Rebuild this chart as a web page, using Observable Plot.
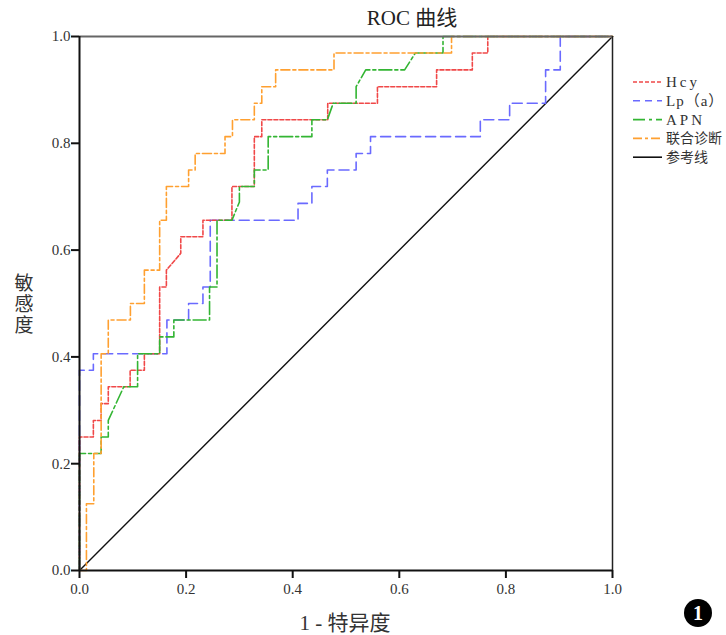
<!DOCTYPE html>
<html>
<head>
<meta charset="utf-8">
<script src="https://cdn.jsdelivr.net/npm/d3@7"></script>
<script src="https://cdn.jsdelivr.net/npm/@observablehq/plot@0.6"></script>
<style>
  html, body { margin: 0; padding: 0; background: #fff; }
  #chart svg { display: block; }
</style>
</head>
<body>
<div id="chart"></div>
<script>
// ---- Data ----
const title = "ROC 曲线";
const xTitle = "1 - 特异度";
const yTitle = ["敏", "感", "度"];
const tickValues = [0, 0.2, 0.4, 0.6, 0.8, 1.0];
const seriesNames = ["Hcy", "Lp（a）", "APN", "联合诊断", "参考线"];

const hcyX = [0, 0, 0.026, 0.026, 0.0406, 0.0406, 0.054, 0.054, 0.095, 0.095, 0.1217, 0.1217, 0.1504, 0.1504, 0.163, 0.163, 0.19, 0.19, 0.2316, 0.2316, 0.286, 0.286, 0.328, 0.328, 0.342, 0.342, 0.4657, 0.4657, 0.559, 0.559, 0.67, 0.67, 0.737, 0.737, 0.766, 0.766, 1];
const hcyY = [0, 0.25, 0.25, 0.281, 0.281, 0.3125, 0.3125, 0.344, 0.344, 0.375, 0.375, 0.406, 0.406, 0.531, 0.531, 0.5625, 0.594, 0.625, 0.625, 0.656, 0.656, 0.719, 0.719, 0.8125, 0.8125, 0.844, 0.844, 0.875, 0.875, 0.906, 0.906, 0.9375, 0.9375, 0.969, 0.969, 1, 1];

const lpaX = [0, 0, 0.026, 0.026, 0.164, 0.164, 0.2047, 0.2047, 0.2316, 0.2316, 0.2453, 0.2453, 0.41, 0.41, 0.436, 0.436, 0.465, 0.465, 0.519, 0.519, 0.546, 0.546, 0.752, 0.752, 0.807, 0.807, 0.8745, 0.8745, 0.902, 0.902, 1];
const lpaY = [0, 0.375, 0.375, 0.406, 0.406, 0.469, 0.469, 0.5, 0.5, 0.531, 0.531, 0.656, 0.656, 0.6875, 0.6875, 0.719, 0.719, 0.75, 0.75, 0.781, 0.781, 0.8125, 0.8125, 0.844, 0.844, 0.875, 0.875, 0.9375, 0.9375, 1, 1];

const apnX = [0, 0, 0.0406, 0.0406, 0.054, 0.054, 0.083, 0.109, 0.109, 0.1504, 0.1504, 0.177, 0.177, 0.244, 0.244, 0.258, 0.258, 0.286, 0.3, 0.3, 0.328, 0.328, 0.354, 0.354, 0.436, 0.436, 0.465, 0.476, 0.519, 0.519, 0.537, 0.61, 0.63, 0.682, 0.682, 1];
const apnY = [0, 0.219, 0.219, 0.25, 0.25, 0.281, 0.344, 0.344, 0.406, 0.406, 0.4375, 0.4375, 0.469, 0.469, 0.531, 0.531, 0.656, 0.656, 0.69, 0.719, 0.719, 0.75, 0.75, 0.8125, 0.8125, 0.844, 0.844, 0.875, 0.875, 0.906, 0.9375, 0.9375, 0.969, 0.969, 1, 1];

const comboX = [0, 0.013, 0.013, 0.0268, 0.0268, 0.0406, 0.0406, 0.054, 0.054, 0.0955, 0.0955, 0.1217, 0.1217, 0.1504, 0.1504, 0.163, 0.163, 0.2047, 0.2047, 0.217, 0.217, 0.273, 0.273, 0.287, 0.287, 0.328, 0.328, 0.342, 0.342, 0.368, 0.368, 0.4775, 0.4775, 0.698, 0.698, 1];
const comboY = [0, 0, 0.125, 0.125, 0.219, 0.219, 0.406, 0.406, 0.469, 0.469, 0.5, 0.5, 0.5625, 0.5625, 0.656, 0.656, 0.719, 0.719, 0.75, 0.75, 0.781, 0.781, 0.8125, 0.8125, 0.844, 0.844, 0.875, 0.875, 0.906, 0.906, 0.9375, 0.9375, 0.969, 0.969, 1, 1];

const refX = [0, 1];
const refY = [0, 1];

// ---- Styles ----
const colors = ["#f04848", "#6a6aff", "#33b533", "#ffa030", "#111111"];
const dashes = ["4,2", "10,5", "13,3,3,3", "9,3,3,3", null];

const toRows = (xs, ys) => xs.map((x, i) => ({x, y: ys[i]}));
const series = [
  toRows(hcyX, hcyY),
  toRows(lpaX, lpaY),
  toRows(apnX, apnY),
  toRows(comboX, comboY),
  toRows(refX, refY)
];

const serif = "'Liberation Serif', 'Noto Sans CJK SC', serif";
const fmt = d3.format(".1f");

const lineMarks = [4, 1, 0, 2, 3].map(i => Plot.line(series[i], {
  x: "x", y: "y",
  stroke: colors[i],
  strokeWidth: i === 4 ? 1.4 : 1.6,
  strokeDasharray: dashes[i] || undefined,
  curve: "linear"
}));

const chart = Plot.plot({
  width: 726,
  height: 635,
  marginLeft: 79,
  marginRight: 114,
  marginTop: 36,
  marginBottom: 65,
  style: {fontFamily: serif, fontSize: "14px", background: "#fff", color: "#333"},
  x: {domain: [0, 1]},
  y: {domain: [0, 1]},
  marks: [
    ...lineMarks,
    Plot.ruleY([1], {stroke: "#666", strokeWidth: 2}),
    Plot.ruleX([1], {stroke: "#222", strokeWidth: 1.5}),
    Plot.ruleX([0], {stroke: "#111", strokeWidth: 2}),
    Plot.ruleY([0], {stroke: "#111", strokeWidth: 2}),
    Plot.axisX({ticks: tickValues, tickFormat: fmt, tickSize: 8, tickPadding: 5, label: null, fontSize: 15, stroke: "#111", strokeWidth: 2, fill: "#333"}),
    Plot.axisY({ticks: tickValues, tickFormat: fmt, tickSize: 8, tickPadding: 1, label: null, fontSize: 15, stroke: "#111", strokeWidth: 2, fill: "#333"})
  ]
});

document.getElementById("chart").appendChild(chart);

// ---- Title, axis titles, legend, badge ----
const svg = d3.select(chart);

svg.append("text")
  .attr("x", 412).attr("y", 25)
  .attr("text-anchor", "middle")
  .attr("font-family", serif).attr("font-size", 21).attr("fill", "#222")
  .text(title);

svg.append("text")
  .attr("x", 345).attr("y", 630)
  .attr("text-anchor", "middle")
  .attr("font-family", serif).attr("font-size", 21).attr("fill", "#333")
  .text(xTitle);

yTitle.forEach((ch, i) => {
  svg.append("text")
    .attr("x", 24).attr("y", 290 + i * 21)
    .attr("text-anchor", "middle")
    .attr("font-family", serif).attr("font-size", 19).attr("fill", "#333")
    .text(ch);
});

const legend = svg.append("g");
const legendSpacing = [3, 1, 3, 0, 0];
const legendSize = [15, 15, 15, 14, 14];
seriesNames.forEach((name, i) => {
  const y = 82 + i * 18.8;
  legend.append("line")
    .attr("x1", 633).attr("x2", 662).attr("y1", y).attr("y2", y)
    .attr("stroke", colors[i]).attr("stroke-width", 1.6)
    .attr("stroke-dasharray", i === 4 ? null : ["4,2", "7,5", "12,4,3,4", "9,3,3,3"][i]);
  legend.append("text")
    .attr("x", 666).attr("y", y + 5)
    .attr("text-anchor", "start")
    .attr("font-family", serif).attr("font-size", legendSize[i]).attr("fill", "#333")
    .attr("letter-spacing", legendSpacing[i])
    .text(name);
});

svg.append("circle").attr("cx", 698).attr("cy", 613).attr("r", 14).attr("fill", "#000");
svg.append("text")
  .attr("x", 698).attr("y", 620)
  .attr("text-anchor", "middle")
  .attr("font-family", serif).attr("font-size", 20).attr("font-weight", "bold").attr("fill", "#fff")
  .text("1");
</script>
</body>
</html>
